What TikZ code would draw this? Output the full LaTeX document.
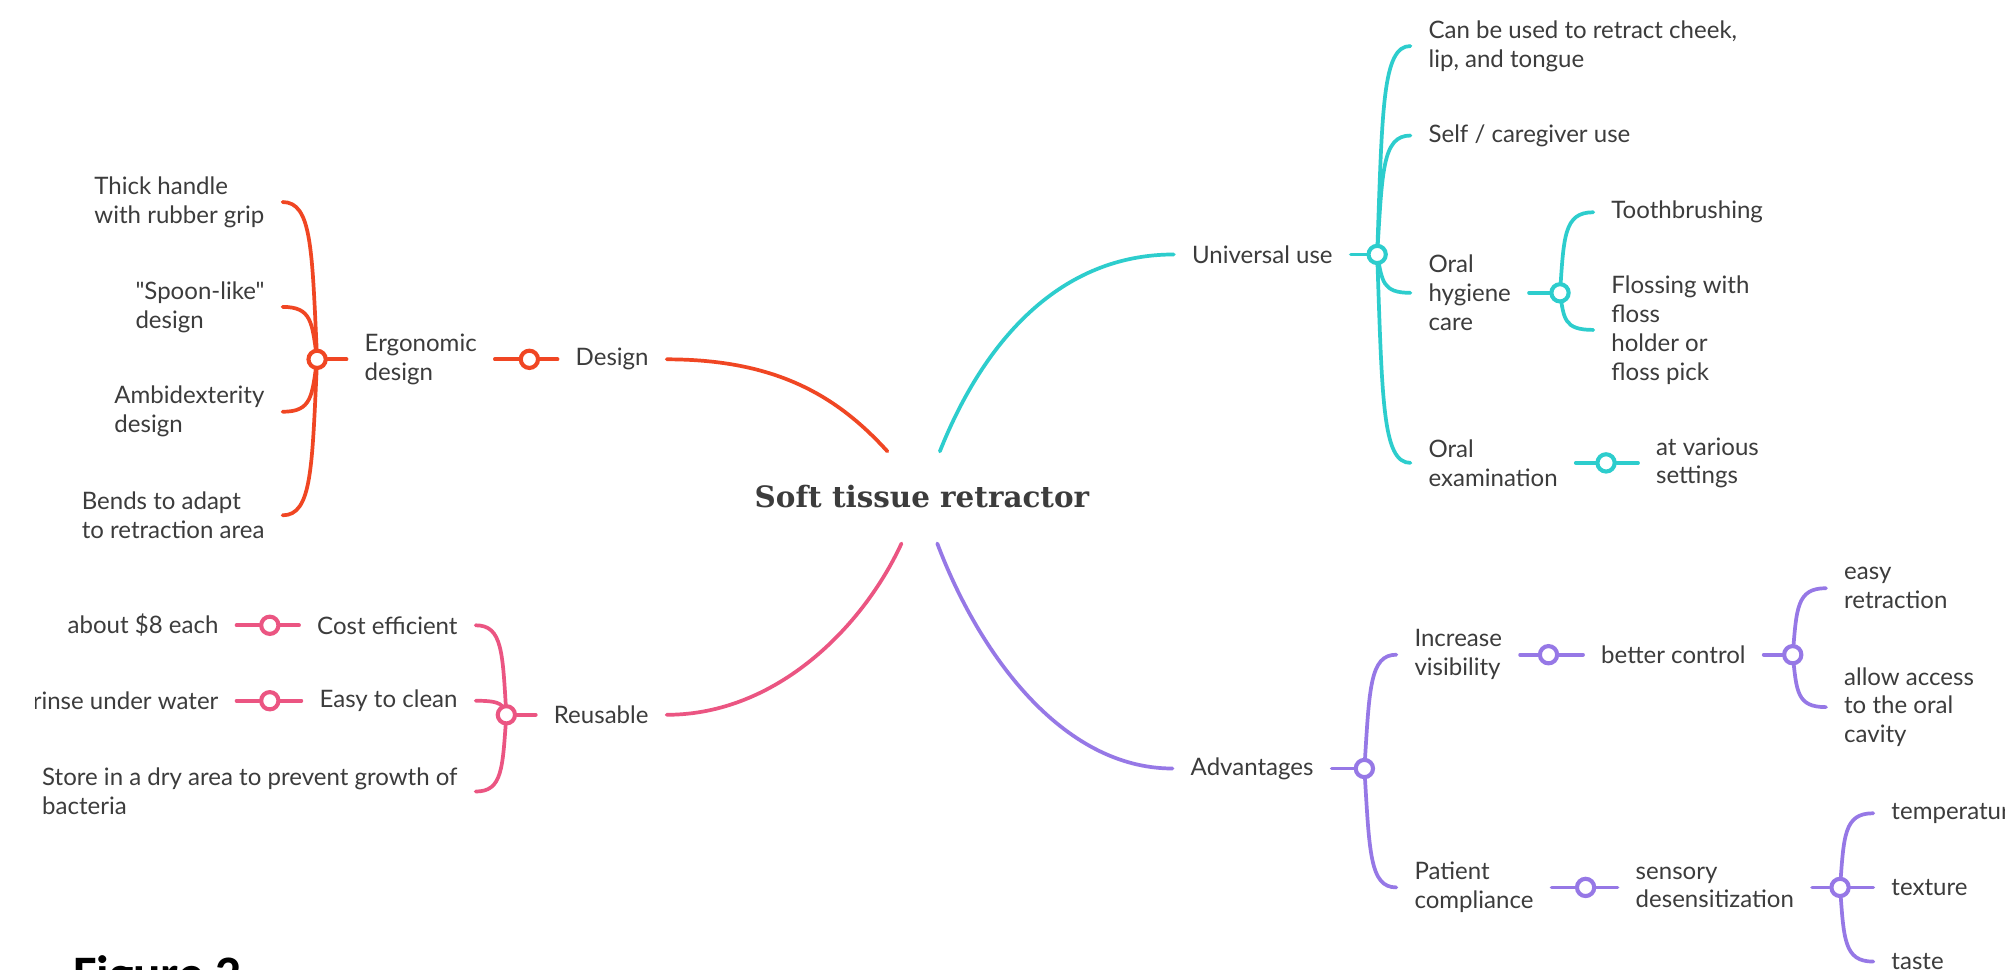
\documentclass[tikz,border=0pt]{standalone}
\usepackage{fontspec}
\setmainfont{Lato}[Ligatures=TeXOff]
\newfontfamily\titlefont{DejaVu Serif}
\newfontfamily\capfont{Carlito}
\usetikzlibrary{calc,backgrounds}
\definecolor{ink}{HTML}{3C3C3C}
\definecolor{cRed}{HTML}{F04623}
\definecolor{cPink}{HTML}{EB5582}
\definecolor{cCyan}{HTML}{2DCDCD}
\definecolor{cPurple}{HTML}{9678E6}
% brace branch: from a hub circle (#1) to a leaf anchor (#2), spine pushed sideways by #3
\newcommand\brc[3]{%
  \draw (#1.center) .. controls ($(#1.center)!0.7!(#1.center|-#2)+(#3,0)$)
        and ($(#1.center|-#2)+(#3,0)$) .. (#2);}
\begin{document}
\begin{tikzpicture}[x=1pt,y=-1pt,
  lbl/.style={inner xsep=14pt, inner ysep=0pt, align=left,
              font=\fontsize{18.8}{22.6}\selectfont, text=ink},
  hub/.style={circle, draw=#1, fill=white, line width=3.2pt,
              minimum size=13.5pt, inner sep=0pt},
  link/.style={color=#1, line width=2.9pt, line cap=round}]
\useasboundingbox (0,0) rectangle (1568,758);

\begin{scope}
\clip (28,0) rectangle (1568,758);
% centre topic
\node[font=\titlefont\bfseries\fontsize{23}{28}\selectfont, text=ink,
      anchor=base, inner sep=0pt] (root) at (721,397) {Soft tissue retractor};
\coordinate (rootNW) at (694,353);
\coordinate (rootNE) at (735,353);
\coordinate (rootSW) at (705,425);
\coordinate (rootSE) at (733,425);

% Design branch
\node[lbl, anchor=west] (design) at (436,281) {Design};
\node[hub=cRed] (hDesign) at (414,281) {};
\node[lbl, anchor=west] (ergo) at (271,281) {Ergonomic\\design};
\node[hub=cRed] (hErgo) at (248,281) {};
\node[lbl, anchor=east] (thick) at (221,158) {Thick handle\\with rubber grip};
\node[lbl, anchor=east] (spoon) at (221,240) {"Spoon-like"\\design};
\node[lbl, anchor=east] (ambi) at (221,322) {Ambidexterity\\design};
\node[lbl, anchor=east] (bends) at (221,403) {Bends to adapt\\to retraction area};

% Reusable branch
\node[lbl, anchor=west] (reuse) at (419,559) {Reusable};
\node[hub=cPink] (hReuse) at (396,559) {};
\node[lbl, anchor=east] (cost) at (372,489) {Cost efficient};
\node[lbl, anchor=east] (clean) at (372,548) {Easy to clean};
\node[lbl, anchor=east] (store) at (372,619) {Store in a dry area to prevent growth of\\bacteria};
\node[hub=cPink] (hCost) at (211,489) {};
\node[hub=cPink] (hClean) at (211,548) {};
\node[lbl, anchor=east] (price) at (185,489) {about \$8 each};
\node[lbl, anchor=east] (rinse) at (185,548) {rinse under water};

% Universal use branch
\node[lbl, anchor=west] (univ) at (918,199) {Universal use};
\node[hub=cCyan] (hUniv) at (1077,199) {};
\node[lbl, anchor=west] (retract) at (1103,36) {Can be used to retract cheek,\\lip, and tongue};
\node[lbl, anchor=west] (self) at (1103,106) {Self / caregiver use};
\node[lbl, anchor=west] (hyg) at (1103,229) {Oral\\hygiene\\care};
\node[lbl, anchor=west] (exam) at (1103,362) {Oral\\examination};
\node[hub=cCyan] (hHyg) at (1220,229) {};
\node[lbl, anchor=west] (brush) at (1246,166) {Toothbrushing};
\node[lbl, anchor=west] (floss) at (1246,258) {Flossing with\\floss\\holder or\\floss pick};
\node[hub=cCyan] (hExam) at (1256,362) {};
\node[lbl, anchor=west] (various) at (1281,362) {at various\\settings};

% Advantages branch
\node[lbl, anchor=west] (adv) at (917,601) {Advantages};
\node[hub=cPurple] (hAdv) at (1067,601) {};
\node[lbl, anchor=west] (vis) at (1092,512) {Increase\\visibility};
\node[lbl, anchor=west] (pat) at (1092,694) {Patient\\compliance};
\node[hub=cPurple] (hVis) at (1211,512) {};
\node[lbl, anchor=west] (ctrl) at (1238,512) {better control};
\node[hub=cPurple] (hCtrl) at (1402,512) {};
\node[lbl, anchor=west] (easyr) at (1428,460) {easy\\retraction};
\node[lbl, anchor=west] (access) at (1428,553) {allow access\\to the oral\\cavity};
\node[hub=cPurple] (hPat) at (1240,694) {};
\node[lbl, anchor=west] (sens) at (1265,694) {sensory\\desensitization};
\node[hub=cPurple] (hSens) at (1439,694) {};
\node[lbl, anchor=west] (temp) at (1465,636) {temperature};
\node[lbl, anchor=west] (texture) at (1465,694) {texture};
\node[lbl, anchor=west] (taste) at (1465,752) {taste};

% caption
\node[font=\capfont\bfseries\fontsize{40}{48}\selectfont, text=black,
      anchor=north west, inner sep=0pt] (fig) at (57,747) {Figure 2};
\end{scope}

\begin{scope}[on background layer]
\fill[white] (0,0) rectangle (1568,758);

\begin{scope}[link=cRed]
\draw (design.east) .. controls +(86,0) and +(-39,-43) .. (rootNW);
\draw (hDesign) -- (design.west);
\draw (ergo.east) -- (hDesign);
\draw (hErgo) -- (ergo.west);
\brc{hErgo}{thick.east}{-4}
\brc{hErgo}{spoon.east}{-4}
\brc{hErgo}{ambi.east}{-4}
\brc{hErgo}{bends.east}{-4}
\end{scope}

\begin{scope}[link=cPink]
\draw (reuse.east) .. controls +(86,0) and +(-30,65) .. (rootSW);
\draw (hReuse) -- (reuse.west);
\brc{hReuse}{cost.east}{-3}
\brc{hReuse}{clean.east}{-3}
\brc{hReuse}{store.east}{-3}
\draw (cost.west) -- (hCost) -- (price.east);
\draw (clean.west) -- (hClean) -- (rinse.east);
\end{scope}

\begin{scope}[link=cCyan]
\draw (rootNE) .. controls +(35,-88) and +(-88,0) .. (univ.west);
\draw (univ.east) -- (hUniv);
\brc{hUniv}{retract.west}{4}
\brc{hUniv}{self.west}{4}
\brc{hUniv}{hyg.west}{4}
\brc{hUniv}{exam.west}{4}
\draw (hyg.east) -- (hHyg);
\brc{hHyg}{brush.west}{3}
\brc{hHyg}{floss.west}{3}
\draw (exam.east) -- (hExam) -- (various.west);
\end{scope}

\begin{scope}[link=cPurple]
\draw (rootSE) .. controls +(32,85) and +(-87,0) .. (adv.west);
\draw (adv.east) -- (hAdv);
\brc{hAdv}{vis.west}{4}
\brc{hAdv}{pat.west}{4}
\draw (vis.east) -- (hVis) -- (ctrl.west);
\draw (ctrl.east) -- (hCtrl);
\brc{hCtrl}{easyr.west}{3}
\brc{hCtrl}{access.west}{3}
\draw (pat.east) -- (hPat) -- (sens.west);
\draw (sens.east) -- (hSens);
\brc{hSens}{temp.west}{3}
\brc{hSens}{texture.west}{3}
\brc{hSens}{taste.west}{3}
\end{scope}
\end{scope}
\end{tikzpicture}
\end{document}
